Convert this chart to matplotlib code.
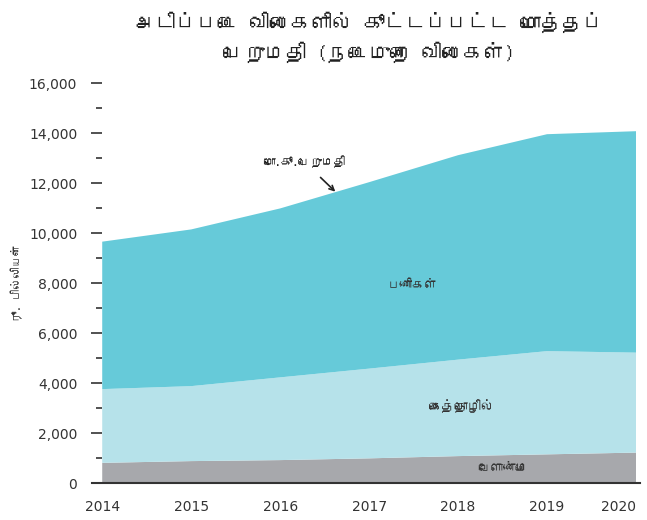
import matplotlib
matplotlib.use("Agg")
import matplotlib.pyplot as plt
from matplotlib import font_manager
from matplotlib.ft2font import FT2Font

# data (Rs. billion, basic prices)
years = [2014, 2015, 2016, 2017, 2018, 2019, 2020]
agriculture = [820, 890, 930, 1000, 1090, 1160, 1230]
industry = [2950, 3000, 3310, 3590, 3860, 4130, 4000]
services = [5900, 6270, 6760, 7460, 8180, 8680, 8860]

yticks = [0, 2000, 4000, 6000, 8000, 10000, 12000, 14000, 16000]
ytick_labels = ["0", "2,000", "4,000", "6,000", "8,000", "10,000", "12,000", "14,000", "16,000"]

title = "அடிப்படை விலைகளில் கூட்டப்பட்ட மொத்தப்\nபெறுமதி (நடைமுறை விலைகள்)"
ylabel = "ரூ. பில்லியன்"
total_label = "மொ.கூ.பெறுமதி"
series_labels = ["வேளாண்மை", "கைத்தொழில்", "பணிகள்"]


# look for any installed font that has Tamil glyphs
def find_tamil_font():
    for f in font_manager.fontManager.ttflist:
        try:
            cmap = FT2Font(f.fname).get_charmap()
        except Exception:
            continue
        if 0x0B85 in cmap and 0x0BAA in cmap:
            return f.name
    return None


tamil = find_tamil_font()
families = ([tamil] if tamil else []) + ["DejaVu Sans"]

fig = plt.figure(figsize=(6.47, 5.2), dpi=100)
ax = fig.add_axes([0.158, 0.0705, 0.825, 0.769])

colors = ["#a7a8ac", "#b6e2ea", "#66cad9"]
ax.stackplot(years, agriculture, industry, services, colors=colors, linewidth=0)

ax.set_xlim(2014, 2020)
ax.set_ylim(0, 16000)
ax.set_xticks(years)
ax.set_xticklabels([str(y) for y in years], fontsize=10, color="#333333")
ax.get_xticklabels()[-1].set_horizontalalignment("right")
ax.set_yticks(yticks)
ax.set_yticklabels(ytick_labels, fontsize=10, color="#333333")
ax.set_yticks(range(1000, 16000, 2000), minor=True)

for s in ["top", "right", "left", "bottom"]:
    ax.spines[s].set_visible(False)
ax.tick_params(axis="y", which="major", length=8, width=1.2, color="#333333", pad=10)
ax.tick_params(axis="y", which="minor", length=4, width=1.2, color="#333333", pad=10)
ax.tick_params(axis="x", length=0, pad=12)

# x axis line, running a little past the plot on both sides
ax.plot([-0.02, 1.008], [0, 0], transform=ax.transAxes, color="#333333",
        lw=1.5, clip_on=False)

ax.set_title(title, fontsize=15, family=families, color="#222222",
             pad=17, linespacing=1.45)
ax.set_ylabel(ylabel, fontsize=8, family=families, color="#333333")
ax.yaxis.set_label_coords(-0.148, 0.5)

ax.annotate(total_label, xy=(2016.62, 11670), xytext=(2016.27, 12870),
            fontsize=8.5, family=families, ha="center", va="center", color="#222222",
            arrowprops=dict(arrowstyle="->", color="#222222", lw=1.2,
                            shrinkA=7, shrinkB=0))

ax.text(2018.5, 650, series_labels[0], fontsize=9, family=families,
        ha="center", va="center", color="#333333")
ax.text(2018.04, 3100, series_labels[1], fontsize=9.5, family=families,
        ha="center", va="center", color="#333333")
ax.text(2017.49, 7930, series_labels[2], fontsize=9, family=families,
        ha="center", va="center", color="#333333")

fig.savefig("out.png", dpi=100)
